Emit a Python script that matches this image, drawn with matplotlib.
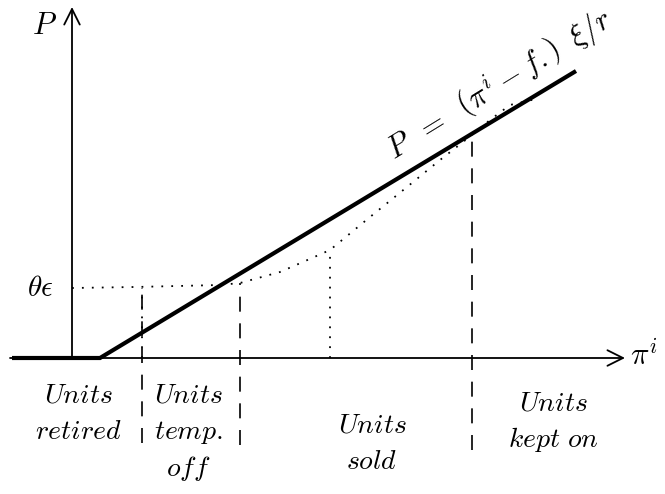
import numpy as np
import matplotlib
matplotlib.use("Agg")
import matplotlib.pyplot as plt

plt.rcParams["mathtext.fontset"] = "cm"

# Price schedule P(pi^i): flat at zero, then linear
price_x = [-1.2, 0.56, 10.08]
price_y = [0.0, 0.0, 5.74]

# Threshold level theta*epsilon and the dotted value curve
theta_eps = 1.40
curve_x = [0.0, 1.26, 2.96, 3.36, 4.16, 4.80, 5.16, 5.96, 6.70, 7.36, 7.82, 8.36, 8.76, 9.28]
curve_y = [1.40, 1.42, 1.46, 1.50, 1.72, 2.00, 2.16, 2.82, 3.42, 3.96, 4.32, 4.76, 5.06, 5.18]

# Region boundaries on the pi^i axis
dashed_x = [1.40, 3.36, 8.00]
dashed_top = [1.40, 1.50, 4.50]
dashed_bottom = [-1.70, -1.74, -1.84]
dotted_x = [1.40, 5.16]
dotted_top = [1.40, 2.16]

# Region labels
region_lines = [["Units", "retired"], ["Units", "temp.", "off"],
                ["Units", "sold"], ["Units", "kept on"]]
region_x = [0.12, 2.32, 6.00, 9.62]
region_y = [-0.88, -0.88, -1.48, -1.04]

fig = plt.figure(figsize=(6.65, 4.94), dpi=100)
ax = fig.add_axes([0, 0, 1, 1])
ax.set_xlim(-1.44, 11.86)
ax.set_ylim(-2.72, 7.16)
ax.axis("off")

# Axes with open arrow heads
arrow = dict(arrowstyle="->", lw=1.3, color="black", mutation_scale=28,
             shrinkA=0, shrinkB=0)
ax.annotate("", xy=(11.06, 0), xytext=(-1.24, 0), arrowprops=arrow)
ax.annotate("", xy=(0, 7.02), xytext=(0, 0), arrowprops=arrow)

# Price line
ax.plot(price_x, price_y, color="black", lw=3.0, solid_capstyle="butt",
        solid_joinstyle="miter")

# Dotted curve
dot = dict(color="black", lw=1.3, linestyle=(0, (1, 4.5)))
ax.plot(curve_x, curve_y, **dot)
for x, top in zip(dotted_x, dotted_top):
    ax.plot([x, x], [0, top], **dot)

# Dashed region boundaries
for x, top, bot in zip(dashed_x, dashed_top, dashed_bottom):
    ax.plot([x, x], [bot, top], color="black", lw=1.2, linestyle=(0, (9, 7)))

# Labels
ax.text(-0.56, 6.64, r"$P$", fontsize=22, ha="center", va="center")
ax.text(-0.64, theta_eps, r"$\theta\epsilon$", fontsize=21, ha="center", va="center")
ax.text(11.16, 0.05, r"$\pi^i$", fontsize=22, ha="left", va="center")

angle = np.degrees(np.arctan2(price_y[2] - price_y[1], price_x[2] - price_x[1]))
ax.text(8.56, 5.44, r"$P\;\;=\;\;\left(\pi^i - f.\right)\;\;\xi/r$", fontsize=22,
        rotation=angle + 0.5, rotation_mode="anchor", ha="center", va="center")

line_gap = 0.74
for lines, x, y in zip(region_lines, region_x, region_y):
    for k, s in enumerate(lines):
        ax.text(x, y - k * line_gap, r"$\mathit{" + s.replace(" ", r"\ ") + "}$",
                fontsize=20, ha="center", va="baseline")

fig.savefig("out.png", dpi=100)
